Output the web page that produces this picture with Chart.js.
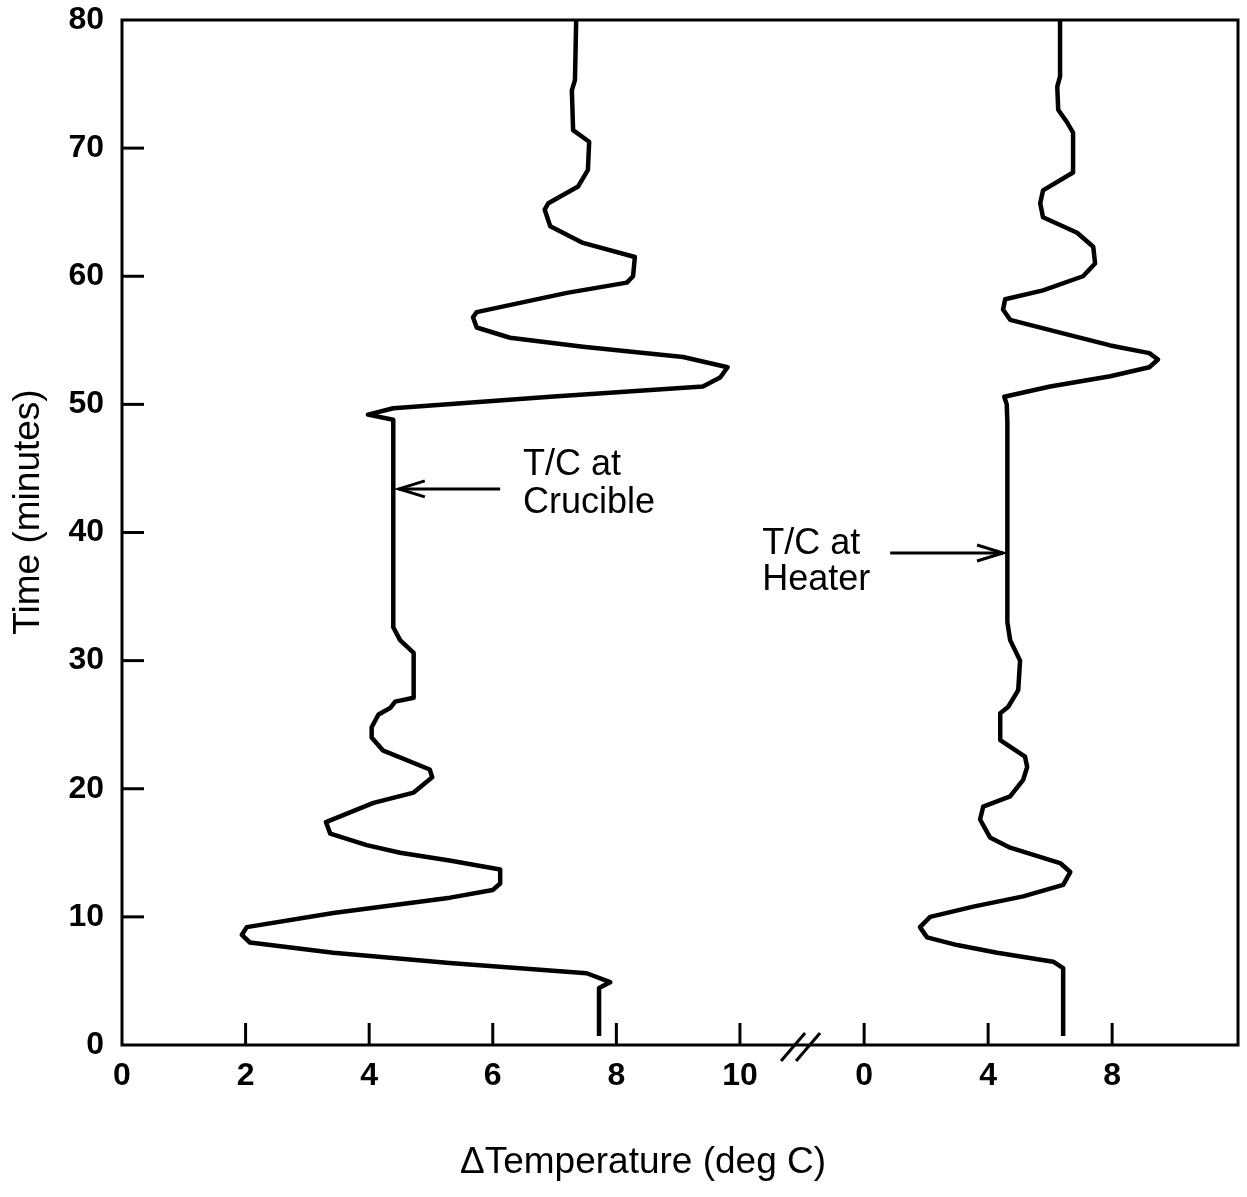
<!DOCTYPE html>
<html><head><meta charset="utf-8">
<script src="https://cdn.jsdelivr.net/npm/chart.js@4/dist/chart.umd.min.js"></script>
<style>html,body{margin:0;padding:0;background:#fff;} canvas{display:block;}</style>
</head><body>
<canvas id="c" width="1247" height="1197"></canvas>
<script>
// ---- data ----
const crucibleTime = [0.7, 4.45, 4.9, 5.6, 6.4, 7.2, 8.0, 8.6, 9.2, 10.3, 11.5, 12.1, 12.6, 13.7, 14.4, 15.0, 15.6, 16.5, 17.4, 18.9, 19.7, 20.9, 21.5, 23.0, 24.0, 24.8, 25.8, 26.3, 26.8, 27.1, 30.6, 31.6, 32.6, 48.8, 49.2, 49.7, 50.6, 51.4, 52.1, 52.9, 53.7, 54.5, 55.2, 56.0, 56.8, 57.2, 58.7, 59.5, 60.0, 61.5, 62.6, 63.9, 65.2, 65.7, 67.0, 68.3, 70.5, 71.4, 74.5, 75.3, 80];
const crucibleTemp = [7.72, 7.72, 7.9, 7.52, 5.3, 3.42, 2.07, 1.94, 2.02, 3.42, 5.31, 6.0, 6.12, 6.12, 5.3, 4.5, 3.96, 3.37, 3.3, 4.07, 4.72, 5.02, 4.98, 4.22, 4.04, 4.04, 4.15, 4.34, 4.42, 4.72, 4.72, 4.5, 4.39, 4.39, 3.98, 4.39, 6.93, 9.4, 9.68, 9.8, 9.08, 7.46, 6.28, 5.74, 5.68, 5.74, 7.2, 8.17, 8.27, 8.3, 7.46, 6.93, 6.84, 6.9, 7.38, 7.54, 7.56, 7.3, 7.28, 7.33, 7.35];
const heaterTime = [0.7, 6.0, 6.5, 7.2, 7.8, 8.4, 9.2, 10.0, 10.8, 11.6, 12.5, 13.5, 14.2, 15.4, 16.2, 17.6, 18.6, 19.4, 20.7, 21.7, 22.5, 23.8, 25.9, 26.4, 27.7, 30.0, 31.6, 33.0, 48.6, 50.0, 50.6, 51.4, 52.2, 52.9, 53.5, 54.0, 54.6, 55.6, 56.6, 57.4, 58.2, 58.9, 60.0, 61.0, 62.3, 63.4, 64.6, 65.7, 66.7, 68.1, 71.2, 72.0, 73.0, 74.8, 75.6, 80];
const heaterTemp = [6.42, 6.42, 6.1, 4.29, 3.0, 2.03, 1.8, 2.13, 3.52, 5.13, 6.42, 6.65, 6.32, 4.71, 4.06, 3.74, 3.84, 4.71, 5.13, 5.26, 5.19, 4.39, 4.39, 4.65, 4.97, 5.03, 4.71, 4.62, 4.62, 4.6, 4.52, 6.0, 7.94, 9.2, 9.48, 9.2, 7.94, 6.32, 4.71, 4.48, 4.55, 5.77, 7.06, 7.45, 7.39, 6.87, 5.77, 5.68, 5.77, 6.74, 6.74, 6.55, 6.26, 6.23, 6.32, 6.32];

const timeTicks = [0, 10, 20, 30, 40, 50, 60, 70, 80];
const crucibleTicks = [0, 2, 4, 6, 8, 10];
const heaterTicks = [0, 4, 8];
const X_MIN = 0, X_MAX = 18.06;      // crucible scale range
const H_MIN = -23.94, H_MAX = 12.06; // heater scale range (same pixel span)

const yTitle = 'Time (minutes)';
const xTitle = '\u0394Temperature (deg C)';
const crucibleLabel = ['T/C at', 'Crucible'];
const heaterLabel = ['T/C at', 'Heater'];
// label anchors (data units: first-line baseline) and arrows
const crucibleLabelAt = {x: 6.49, y: 44.5};
const crucibleArrow = {x1: 6.12, x2: 4.48, y: 43.4};
const heaterLabelAt = {x: -3.29, y: 38.3};
const heaterArrow = {x1: 0.84, x2: 4.48, y: 38.4};

const FONT = '"Liberation Sans", Arial, Helvetica, sans-serif';

const pts = (xs, ys) => xs.map((t, i) => ({x: ys[i], y: t}));

const decor = {
  id: 'decor',
  afterDraw(chart) {
    const ctx = chart.ctx, a = chart.chartArea;
    const xs = chart.scales.x, x2 = chart.scales.x2, ys = chart.scales.y;
    ctx.save();
    ctx.strokeStyle = '#000';
    ctx.lineWidth = 3;
    ctx.lineCap = 'square';
    ctx.strokeRect(a.left, a.top, a.right - a.left, a.bottom - a.top);
    // inward ticks
    ctx.lineCap = 'butt';
    timeTicks.forEach(v => {
      if (v === 0 || v === 80) return;
      const py = ys.getPixelForValue(v);
      ctx.beginPath(); ctx.moveTo(a.left, py); ctx.lineTo(a.left + 22, py); ctx.stroke();
    });
    crucibleTicks.forEach(v => {
      if (v === 0) return;
      const px = xs.getPixelForValue(v);
      ctx.beginPath(); ctx.moveTo(px, a.bottom); ctx.lineTo(px, a.bottom - 22); ctx.stroke();
    });
    heaterTicks.forEach(v => {
      const px = x2.getPixelForValue(v);
      ctx.beginPath(); ctx.moveTo(px, a.bottom); ctx.lineTo(px, a.bottom - 22); ctx.stroke();
    });
    // axis break marks
    const bx = (xs.getPixelForValue(10) + x2.getPixelForValue(0)) / 2;
    [-8, 7].forEach(d => {
      ctx.beginPath();
      ctx.moveTo(bx + d - 13, a.bottom + 16);
      ctx.lineTo(bx + d + 11, a.bottom - 12);
      ctx.stroke();
    });
    // annotations
    ctx.fillStyle = '#000';
    ctx.font = '36px ' + FONT;
    ctx.textAlign = 'left';
    ctx.textBaseline = 'alphabetic';
    let lx = xs.getPixelForValue(crucibleLabelAt.x), ly = ys.getPixelForValue(crucibleLabelAt.y);
    crucibleLabel.forEach((s, i) => ctx.fillText(s, lx, ly + i * 38));
    lx = x2.getPixelForValue(heaterLabelAt.x); ly = ys.getPixelForValue(heaterLabelAt.y);
    heaterLabel.forEach((s, i) => ctx.fillText(s, lx, ly + i * 36));
    const arrow = (sx, ex, y) => {
      ctx.lineWidth = 3;
      ctx.beginPath(); ctx.moveTo(sx, y); ctx.lineTo(ex, y); ctx.stroke();
      const dir = ex > sx ? -1 : 1;
      ctx.beginPath();
      ctx.moveTo(ex + dir * 26, y - 8); ctx.lineTo(ex, y); ctx.lineTo(ex + dir * 26, y + 8);
      ctx.stroke();
    };
    arrow(xs.getPixelForValue(crucibleArrow.x1), xs.getPixelForValue(crucibleArrow.x2), ys.getPixelForValue(crucibleArrow.y));
    arrow(x2.getPixelForValue(heaterArrow.x1), x2.getPixelForValue(heaterArrow.x2), ys.getPixelForValue(heaterArrow.y));
    // axis titles
    ctx.font = '37px ' + FONT;
    ctx.textAlign = 'center';
    ctx.fillText(xTitle, 643, 1173);
    ctx.translate(39, 512);
    ctx.rotate(-Math.PI / 2);
    ctx.fillText(yTitle, 0, 0);
    ctx.restore();
  }
};

new Chart(document.getElementById('c'), {
  type: 'scatter',
  data: {
    datasets: [
      {label: 'T/C at Crucible', data: pts(crucibleTime, crucibleTemp), xAxisID: 'x', yAxisID: 'y',
       showLine: true, borderColor: '#000', borderWidth: 4.5, borderJoinStyle: 'round', pointRadius: 0, tension: 0, fill: false},
      {label: 'T/C at Heater', data: pts(heaterTime, heaterTemp), xAxisID: 'x2', yAxisID: 'y',
       showLine: true, borderColor: '#000', borderWidth: 4.5, borderJoinStyle: 'round', pointRadius: 0, tension: 0, fill: false}
    ]
  },
  options: {
    responsive: false,
    animation: false,
    layout: {padding: {top: 20, right: 9, left: 0, bottom: 0}},
    plugins: {legend: {display: false}, tooltip: {enabled: false}},
    scales: {
      x: {
        type: 'linear', position: 'bottom', min: X_MIN, max: X_MAX,
        grid: {display: false, drawTicks: false}, border: {display: false},
        afterBuildTicks: s => {
          s.ticks = crucibleTicks.map(v => ({value: v, lbl: String(v)})).concat(
            heaterTicks.map(h => ({value: X_MIN + (h - H_MIN) / (H_MAX - H_MIN) * (X_MAX - X_MIN), lbl: String(h)})));
        },
        ticks: {autoSkip: false, maxRotation: 0, padding: 12, color: '#000',
          font: {family: FONT, size: 32, weight: 'bold'},
          callback: (v, i, t) => t[i].lbl},
        afterFit: s => { s.height = 152; s.paddingLeft = 0; s.paddingRight = 0; }
      },
      x2: {type: 'linear', display: false, min: H_MIN, max: H_MAX},
      y: {
        type: 'linear', position: 'left', min: 0, max: 80,
        grid: {display: false, drawTicks: false}, border: {display: false},
        afterBuildTicks: s => { s.ticks = timeTicks.map(v => ({value: v})); },
        ticks: {padding: 18, color: '#000', font: {family: FONT, size: 32, weight: 'bold'}},
        afterFit: s => { s.width = 122; s.paddingTop = 0; s.paddingBottom = 0; }
      }
    }
  },
  plugins: [decor]
});
</script>
</body></html>
